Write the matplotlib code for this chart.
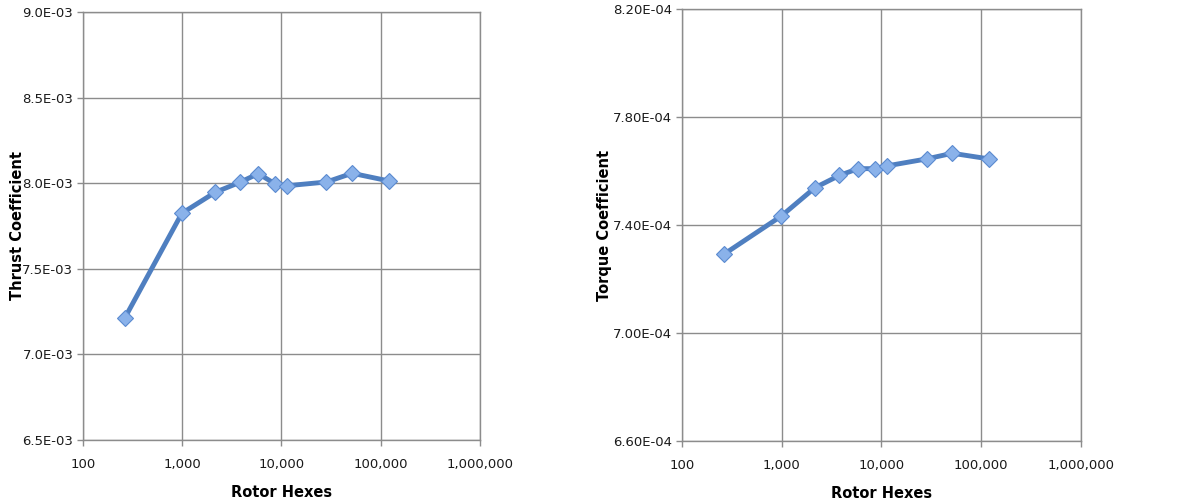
import matplotlib
matplotlib.use("Agg")
from matplotlib import pyplot as plt
from matplotlib.ticker import FixedLocator, NullLocator, FuncFormatter

# rotor hexes (mesh size) and the coefficients for each run
hexes = [262, 990, 2150, 3800, 5850, 8550, 11300, 28400, 51500, 121000]
thrust = [7.21e-3, 7.824e-3, 7.947e-3, 8.005e-3, 8.056e-3, 7.997e-3, 7.985e-3, 8.007e-3, 8.058e-3, 8.013e-3]
torque = [7.291e-4, 7.433e-4, 7.538e-4, 7.584e-4, 7.609e-4, 7.609e-4, 7.619e-4, 7.645e-4, 7.666e-4, 7.645e-4]

x_ticks = [100, 1000, 10000, 100000, 1000000]
thrust_ticks = [6.5e-3, 7.0e-3, 7.5e-3, 8.0e-3, 8.5e-3, 9.0e-3]
torque_ticks = [6.6e-4, 7.0e-4, 7.4e-4, 7.8e-4, 8.2e-4]

line_c = "#4f7fc0"
mark_c = "#8ab2ea"
grid_c = "#8c8c8c"

fig = plt.figure(figsize=(11.83, 5.0), dpi=100)
ax1 = fig.add_axes([0.0702, 0.12, 0.3355, 0.856])
ax2 = fig.add_axes([0.5765, 0.1186, 0.337, 0.8628])


def sci(digits):
    def f(v, pos):
        s = "%.*E" % (digits, v)
        mant, ex = s.split("E")
        return "%sE%s%02d" % (mant, ex[0], abs(int(ex)))
    return f


def setup(ax, y, yticks, digits, ylabel, ylab_x):
    ax.plot(hexes, y, color=line_c, lw=3.5, marker="D", markersize=8,
            markerfacecolor=mark_c, markeredgecolor="#5a8ad0", markeredgewidth=0.8,
            zorder=3)
    ax.set_xscale("log")
    ax.set_xlim(100, 1000000)
    ax.set_ylim(yticks[0], yticks[-1])
    ax.xaxis.set_major_locator(FixedLocator(x_ticks))
    ax.xaxis.set_minor_locator(NullLocator())
    ax.xaxis.set_major_formatter(FuncFormatter(lambda v, p: "{:,}".format(int(round(v)))))
    ax.yaxis.set_major_locator(FixedLocator(yticks))
    ax.yaxis.set_major_formatter(FuncFormatter(sci(digits)))
    ax.grid(True, color=grid_c, lw=1)
    ax.set_axisbelow(True)
    for s in ax.spines.values():
        s.set_color(grid_c)
        s.set_linewidth(1)
    ax.tick_params(axis="both", color=grid_c, length=4, width=1, labelsize=9.5,
                   labelcolor="#1a1a1a", pad=3)
    ax.tick_params(axis="x", pad=9)
    ax.set_ylabel(ylabel, fontsize=10.5, fontweight="bold")
    ax.yaxis.set_label_coords(ylab_x, 0.5)
    ax.set_xlabel("Rotor Hexes", fontsize=10.5, fontweight="bold")
    ax.xaxis.set_label_coords(0.5, -0.105)


setup(ax1, thrust, thrust_ticks, 1, "Thrust Coefficient", -0.146)
setup(ax2, torque, torque_ticks, 2, "Torque Coefficient", -0.176)

fig.savefig("out.png", dpi=100)
